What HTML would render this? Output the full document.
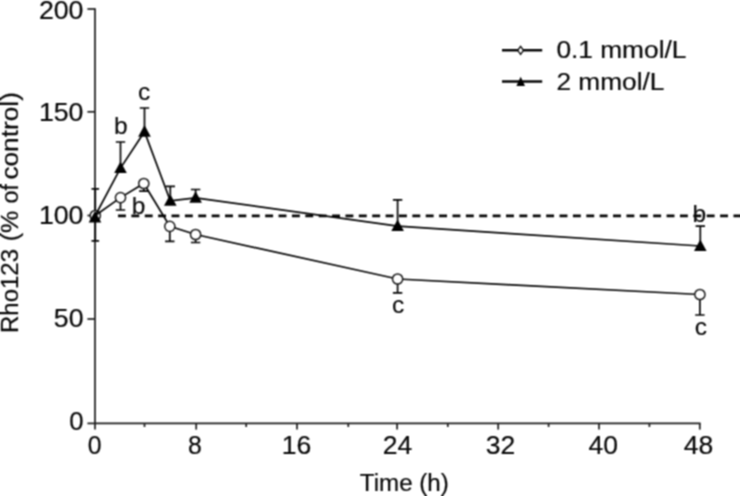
<!DOCTYPE html>
<html><head><meta charset="utf-8"><title>Rho123 time course</title>
<style>
html,body{margin:0;padding:0;background:#fff;}
svg{display:block;}
text{font-family:"Liberation Sans",sans-serif;fill:#080808;stroke:#080808;stroke-width:0.2px;}
text.lt{stroke-width:0.12px;}
</style></head><body>
<svg width="740" height="496" viewBox="0 0 740 496">
<rect width="740" height="496" fill="#fff"/>
<defs><filter id="soft" x="0" y="0" width="740" height="496" filterUnits="userSpaceOnUse" color-interpolation-filters="sRGB"><feConvolveMatrix order="3" kernelMatrix="1 2 1 2 4 2 1 2 1" divisor="16" edgeMode="duplicate" preserveAlpha="true"/></filter></defs>
<g filter="url(#soft)">
<rect width="740" height="496" fill="#fff"/>
<g stroke="#1c1c1c" stroke-width="1.7" fill="none" stroke-linecap="butt">
<path d="M95.0 8.2 V423.4 H700.6"/>
<path d="M87.4 423.4 H95.0"/>
<path d="M87.4 319.0 H95.0"/>
<path d="M87.4 215.5 H95.0"/>
<path d="M87.4 111.8 H95.0"/>
<path d="M87.4 9.0 H95.0"/>
<path d="M95.0 423.4 V429.6"/>
<path d="M144.5 423.4 V427.0"/>
<path d="M196.2 423.4 V429.6"/>
<path d="M246.2 423.4 V427.0"/>
<path d="M297.0 423.4 V429.6"/>
<path d="M348.3 423.4 V427.0"/>
<path d="M397.1 423.4 V429.6"/>
<path d="M447.8 423.4 V427.0"/>
<path d="M498.2 423.4 V429.6"/>
<path d="M548.6 423.4 V427.0"/>
<path d="M599.0 423.4 V429.6"/>
<path d="M649.4 423.4 V427.0"/>
<path d="M699.8 423.4 V429.6"/>
</g>
<path d="M118 215.85 H740" stroke="#050505" stroke-width="2.6" stroke-dasharray="7.9 5.48" fill="none"/>
<g stroke="#050505" stroke-width="1.7" fill="none">
<path d="M95.3 215.5 V188.8 M91.5 188.8 H99.1"/>
<path d="M120.5 168.1 V142.0 M115.8 142.0 H125.2"/>
<path d="M144.5 131.7 V108.0 M139.8 108.0 H149.2"/>
<path d="M170.3 200.8 V186.3 M165.6 186.3 H175.0"/>
<path d="M195.6 197.8 V189.5 M190.9 189.5 H200.3"/>
<path d="M397.6 226.1 V199.8 M392.9 199.8 H402.3"/>
<path d="M700.3 246.0 V226.2 M695.6 226.2 H705.0"/>
<path d="M95.3 215.5 V240.8 M91.5 240.8 H99.1"/>
<path d="M120.5 197.6 V210.0 M115.8 210.0 H125.2"/>
<path d="M143.8 183.5 V191.2 M139.1 191.2 H148.5"/>
<path d="M169.8 226.3 V241.3 M165.1 241.3 H174.5"/>
<path d="M195.6 234.5 V242.5 M190.9 242.5 H200.3"/>
<path d="M397.6 279.0 V292.8 M392.9 292.8 H402.3"/>
<path d="M699.9 294.5 V315.0 M695.2 315.0 H704.6"/>
</g>
<circle cx="95.3" cy="215.5" r="5.1" fill="#fff" stroke="#1c1c1c" stroke-width="1.5"/>
<g stroke="#050505" stroke-width="1.7" fill="none">
<polyline points="95.3,215.5 120.5,168.1 144.5,131.7 170.3,200.8 195.6,197.8 397.6,226.1 700.3,246.0"/>
<polyline points="95.3,215.5 120.5,197.6 143.8,183.5 169.8,226.3 195.6,234.5 397.6,279.0 699.9,294.5"/>
</g>
<circle cx="120.5" cy="197.6" r="5.1" fill="#fff" stroke="#1c1c1c" stroke-width="1.5"/>
<circle cx="143.8" cy="183.5" r="5.1" fill="#fff" stroke="#1c1c1c" stroke-width="1.5"/>
<circle cx="169.8" cy="226.3" r="5.1" fill="#fff" stroke="#1c1c1c" stroke-width="1.5"/>
<circle cx="195.6" cy="234.5" r="5.1" fill="#fff" stroke="#1c1c1c" stroke-width="1.5"/>
<circle cx="397.6" cy="279.0" r="5.1" fill="#fff" stroke="#1c1c1c" stroke-width="1.5"/>
<circle cx="699.9" cy="294.5" r="5.1" fill="#fff" stroke="#1c1c1c" stroke-width="1.5"/>
<path d="M95.0 211.0 L101.3 222.6 L88.7 222.6 Z" fill="#000"/>
<path d="M120.5 161.5 L126.8 173.1 L114.2 173.1 Z" fill="#000"/>
<path d="M144.5 125.1 L150.8 136.7 L138.2 136.7 Z" fill="#000"/>
<path d="M170.3 194.2 L176.6 205.8 L164.0 205.8 Z" fill="#000"/>
<path d="M195.6 191.2 L201.9 202.8 L189.3 202.8 Z" fill="#000"/>
<path d="M397.6 219.5 L403.9 231.1 L391.3 231.1 Z" fill="#000"/>
<path d="M700.3 239.4 L706.6 251.0 L694.0 251.0 Z" fill="#000"/>
<text x="83.5" y="18.5" font-size="25.0" text-anchor="end" textLength="44.6" lengthAdjust="spacingAndGlyphs">200</text>
<text x="83.5" y="120.9" font-size="25.0" text-anchor="end" textLength="44.6" lengthAdjust="spacingAndGlyphs">150</text>
<text x="83.5" y="223.8" font-size="25.0" text-anchor="end" textLength="44.6" lengthAdjust="spacingAndGlyphs">100</text>
<text x="83.5" y="326.8" font-size="25.0" text-anchor="end" textLength="29.7" lengthAdjust="spacingAndGlyphs">50</text>
<text x="83.5" y="430.2" font-size="25.0" text-anchor="end" textLength="14.3" lengthAdjust="spacingAndGlyphs">0</text>
<text x="94.7" y="454.2" font-size="25.0" text-anchor="middle" textLength="13.8" lengthAdjust="spacingAndGlyphs">0</text>
<text x="194.9" y="454.2" font-size="25.0" text-anchor="middle" textLength="13.8" lengthAdjust="spacingAndGlyphs">8</text>
<text x="296.5" y="454.2" font-size="25.0" text-anchor="middle" textLength="29.5" lengthAdjust="spacingAndGlyphs">16</text>
<text x="397.6" y="454.2" font-size="25.0" text-anchor="middle" textLength="29.5" lengthAdjust="spacingAndGlyphs">24</text>
<text x="500.6" y="454.2" font-size="25.0" text-anchor="middle" textLength="29.5" lengthAdjust="spacingAndGlyphs">32</text>
<text x="603.2" y="454.2" font-size="25.0" text-anchor="middle" textLength="29.5" lengthAdjust="spacingAndGlyphs">40</text>
<text x="698.4" y="454.2" font-size="25.0" text-anchor="middle" textLength="29.5" lengthAdjust="spacingAndGlyphs">48</text>
<text x="359.8" y="491.2" font-size="23.3" text-anchor="start" textLength="89.0" lengthAdjust="spacingAndGlyphs">Time (h)</text>
<text x="556.4" y="58.3" font-size="24.2" text-anchor="start" textLength="130.0" lengthAdjust="spacingAndGlyphs">0.1 mmol/L</text>
<text x="556.4" y="89.7" font-size="24.2" text-anchor="start" textLength="108.0" lengthAdjust="spacingAndGlyphs">2 mmol/L</text>
<text transform="translate(18.3 0) rotate(-90)" font-size="24.2"><tspan x="-333.0" y="0" textLength="84.0" lengthAdjust="spacingAndGlyphs">Rho123</tspan><tspan x="-241.2" y="0" textLength="30.5" lengthAdjust="spacingAndGlyphs">(%</tspan><tspan x="-203.4" y="0" textLength="19.3" lengthAdjust="spacingAndGlyphs">of</tspan><tspan x="-179.6" y="0" textLength="87.5" lengthAdjust="spacingAndGlyphs">control)</tspan></text>
<text x="120.8" y="133.8" font-size="24.5" text-anchor="middle" class="lt">b</text>
<text x="144.2" y="99.6" font-size="24.5" text-anchor="middle" class="lt">c</text>
<text x="138.6" y="214.0" font-size="24.5" text-anchor="middle" class="lt">b</text>
<text x="398.2" y="313.2" font-size="24.5" text-anchor="middle" class="lt">c</text>
<text x="699.3" y="221.6" font-size="24.5" text-anchor="middle" class="lt">b</text>
<text x="700.8" y="335.0" font-size="24.5" text-anchor="middle" class="lt">c</text>
<g stroke="#050505" stroke-width="2.5" fill="none"><path d="M502 50.3 H542.2"/><path d="M502 81.5 H542.2"/></g>
<path d="M520.6 46.3 L523.5 50.3 L520.6 54.3 L517.7 50.3 Z" fill="#fff" stroke="#050505" stroke-width="1.3"/>
<path d="M520.7 76.7 L525.0 86.1 L516.4 86.1 Z" fill="#000"/>
</g>
</svg></body></html>
